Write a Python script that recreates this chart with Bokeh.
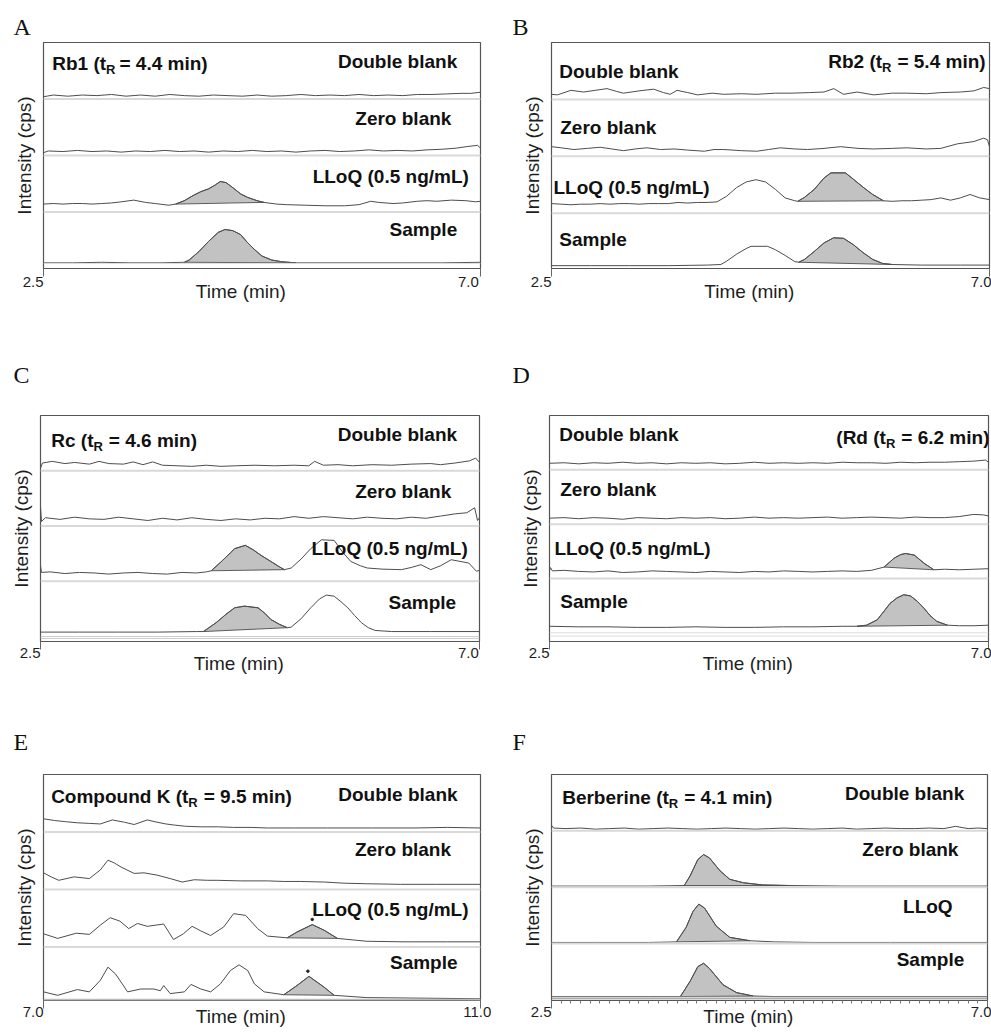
from bokeh.plotting import figure
from bokeh.models import Label, Range1d, FixedTicker, Span, Title, CustomJSTickFormatter
from bokeh.layouts import column, row
from bokeh.embed import file_html
from bokeh.resources import INLINE

# ---------------------------------------------------------------- texts
PANEL_LETTERS = ["A", "B", "C", "D", "E", "F"]
STRIP_LABELS = ["Double blank", "Zero blank", "LLoQ (0.5 ng/mL)", "Sample"]
STRIP_LABELS_F = ["Double blank", "Zero blank", "LLoQ", "Sample"]
ANALYTES = ["Rb1 (t", "Rb2 (t", "Rc (t", "(Rd (t", "Compound K (t", "Berberine (t"]
RT_SUB = "R"
RT_TEXT = ["= 4.4 min)", "= 5.4 min)", "= 4.6 min)", "= 6.2 min)", "= 9.5 min)", "= 4.1 min)"]
X_LIMITS = [(2.5, 7.0), (2.5, 7.0), (2.5, 7.0), (2.5, 7.0), (7.0, 11.0), (2.5, 7.0)]
TICK_LABELS = [["2.5", "7.0"], ["2.5", "7.0"], ["2.5", "7.0"], ["2.5", "7.0"], ["7.0", "11.0"], ["2.5", "7.0"]]
X_TITLE = "Time (min)"
Y_TITLE = "Intensity (cps)"

# ---------------------------------------------------------------- traces: (time min, intensity % of strip)
# Panel A - Rb1
A_DOUBLE = [(2.5,4),(2.6,7),(2.75,5),(2.9,7),(3.05,6),(3.2,8),(3.35,5),(3.5,7),(3.65,5),(3.8,8),(3.95,6),(4.1,5),(4.25,7),(4.4,6),(4.55,5),(4.7,7),(4.85,5),(5.0,6),(5.15,8),(5.3,6),(5.45,7),(5.6,6),(5.75,8),(5.9,6),(6.05,7),(6.2,6),(6.35,8),(6.5,8),(6.65,9),(6.8,10),(6.9,10),(7.0,12)]
A_ZERO = [(2.5,5),(2.55,8),(2.7,7),(2.85,9),(3.0,7),(3.15,8),(3.3,6),(3.45,8),(3.6,7),(3.75,9),(3.9,7),(4.05,8),(4.2,6),(4.35,8),(4.5,7),(4.65,9),(4.8,7),(4.95,8),(5.1,6),(5.25,8),(5.4,9),(5.55,7),(5.7,8),(5.85,10),(6.0,8),(6.15,9),(6.3,8),(6.45,10),(6.6,11),(6.75,13),(6.87,16),(6.97,18),(7.0,13)]
A_LLOQ = [(2.5,14),(2.6,15),(2.7,14),(2.8,15),(2.9,15),(3.0,14),(3.1,15),(3.2,16),(3.3,18),(3.43,21),(3.55,17),(3.65,15),(3.79,12),(3.86,14),(3.95,20),(4.05,30),(4.12,36),(4.2,41),(4.27,48),(4.32,54),(4.38,52),(4.45,43),(4.53,32),(4.6,26),(4.7,20),(4.77,17),(4.9,14),(5.0,13),(5.2,12),(5.4,11),(5.6,11),(5.75,13),(5.87,19),(5.95,17),(6.1,15),(6.2,16),(6.35,19),(6.45,20),(6.55,19),(6.7,21),(6.85,20),(6.95,18),(7.0,19)]
A_SAMPLE = [(2.5,10),(2.8,10),(3.1,11),(3.4,10),(3.7,10),(3.95,11),(4.0,15),(4.1,30),(4.2,48),(4.3,64),(4.37,69),(4.45,67),(4.53,60),(4.6,46),(4.67,34),(4.75,22),(4.85,15),(4.95,12),(5.1,10),(5.4,10),(5.8,10),(6.2,10),(6.6,10),(7.0,11)]
A_PEAKS = [None, None, (3.86, 4.77), (3.95, 5.1)]

# Panel B - Rb2
B_DOUBLE = [(2.5,9),(2.56,8),(2.7,16),(2.83,13),(2.95,16),(3.07,19),(3.17,14),(3.24,11),(3.4,15),(3.55,18),(3.65,12),(3.72,9),(3.79,16),(3.9,12),(4.0,8),(4.15,11),(4.27,9),(4.45,10),(4.61,9),(4.8,11),(4.96,11),(5.15,12),(5.3,13),(5.4,19),(5.5,9),(5.64,13),(5.81,8),(6.0,11),(6.15,11),(6.35,10),(6.5,12),(6.7,13),(6.84,15),(6.94,21),(7.0,19)]
B_ZERO = [(2.5,17),(2.6,15),(2.73,12),(2.87,14),(3.0,16),(3.12,13),(3.24,10),(3.36,13),(3.48,15),(3.62,12),(3.76,13),(3.9,11),(4.07,9),(4.17,12),(4.27,12),(4.45,10),(4.61,9),(4.73,12),(4.85,15),(5.0,13),(5.13,12),(5.3,14),(5.47,17),(5.65,14),(5.81,13),(6.0,14),(6.15,15),(6.35,13),(6.5,14),(6.67,22),(6.84,26),(6.94,32),(6.98,29),(7.0,17)]
B_LLOQ = [(2.5,17),(2.6,16),(2.7,15),(2.8,16),(2.9,16),(3.0,17),(3.1,16),(3.2,17),(3.3,17),(3.4,16),(3.5,17),(3.6,17),(3.7,17),(3.8,19),(3.9,18),(4.0,19),(4.1,19),(4.2,20),(4.3,30),(4.4,45),(4.5,55),(4.6,59),(4.7,55),(4.8,42),(4.9,27),(5.0,22),(5.03,21),(5.1,28),(5.2,42),(5.3,62),(5.37,71),(5.52,71),(5.6,60),(5.7,46),(5.8,33),(5.91,22),(6.0,21),(6.1,22),(6.2,22),(6.3,23),(6.4,24),(6.5,27),(6.6,23),(6.7,27),(6.8,33),(6.9,27),(7.0,24)]
B_SAMPLE = [(2.5,8),(2.9,8),(3.3,8),(3.7,8),(4.1,9),(4.24,10),(4.3,16),(4.4,28),(4.5,38),(4.55,42),(4.72,42),(4.8,36),(4.9,26),(5.0,15),(5.04,14),(5.1,19),(5.2,33),(5.3,48),(5.4,57),(5.5,56),(5.6,45),(5.7,31),(5.8,19),(5.9,12),(6.0,10),(6.3,9),(6.7,9),(7.0,9)]
B_PEAKS = [None, None, (5.03, 5.91), (5.04, 6.0)]

# Panel C - Rc
C_DOUBLE = [(2.5,5),(2.52,14),(2.62,17),(2.75,13),(2.85,15),(3.0,12),(3.1,17),(3.2,13),(3.35,12),(3.45,16),(3.55,11),(3.65,16),(3.75,10),(3.9,9),(4.05,8),(4.2,10),(4.35,8),(4.5,9),(4.7,10),(4.9,9),(5.1,10),(5.25,9),(5.31,17),(5.4,10),(5.55,11),(5.7,9),(5.9,11),(6.1,10),(6.3,12),(6.5,13),(6.6,11),(6.75,14),(6.9,18),(6.96,23),(7.0,15)]
C_ZERO = [(2.5,35),(2.51,8),(2.55,15),(2.7,12),(2.85,16),(3.0,13),(3.15,12),(3.3,16),(3.45,13),(3.6,10),(3.75,14),(3.9,11),(4.05,15),(4.2,12),(4.35,10),(4.5,13),(4.65,11),(4.8,14),(4.95,13),(5.1,17),(5.25,14),(5.4,17),(5.55,15),(5.7,13),(5.85,16),(6.0,14),(6.15,13),(6.3,16),(6.45,14),(6.6,18),(6.75,22),(6.87,24),(6.95,33),(6.98,10),(7.0,15)]
C_LLOQ = [(2.5,28),(2.51,16),(2.6,17),(2.75,14),(2.9,16),(3.05,15),(3.2,13),(3.35,15),(3.5,16),(3.65,14),(3.8,13),(3.95,16),(4.1,15),(4.2,17),(4.25,19),(4.35,35),(4.45,52),(4.49,59),(4.6,65),(4.68,57),(4.76,47),(4.86,36),(4.95,26),(5.0,21),(5.07,24),(5.17,40),(5.27,59),(5.38,75),(5.51,74),(5.6,52),(5.68,36),(5.78,28),(5.85,24),(6.0,22),(6.2,21),(6.3,25),(6.4,30),(6.5,21),(6.6,28),(6.71,39),(6.8,36),(6.89,33),(6.97,18),(7.0,20)]
C_SAMPLE = [(2.5,8),(2.9,8),(3.3,8),(3.7,8),(4.1,9),(4.17,9),(4.3,25),(4.4,40),(4.49,52),(4.59,55),(4.73,52),(4.8,42),(4.86,31),(4.95,22),(5.03,16),(5.07,17),(5.17,32),(5.27,52),(5.36,68),(5.43,75),(5.51,73),(5.58,63),(5.65,52),(5.72,38),(5.79,25),(5.86,16),(5.93,11),(6.1,9),(6.5,9),(7.0,9)]
C_PEAKS = [None, None, (4.25, 5.0), (4.17, 5.03)]

# Panel D - Rd
D_DOUBLE = [(2.5,12),(2.65,13),(2.8,11),(2.95,13),(3.1,12),(3.25,14),(3.4,12),(3.55,13),(3.7,11),(3.85,13),(4.0,12),(4.15,13),(4.3,11),(4.45,12),(4.6,14),(4.75,12),(4.9,13),(5.05,12),(5.2,13),(5.35,12),(5.5,14),(5.65,13),(5.8,13),(5.95,12),(6.1,14),(6.25,13),(6.4,14),(6.55,14),(6.7,15),(6.85,16),(6.97,18),(7.0,14)]
D_ZERO = [(2.5,11),(2.65,12),(2.8,10),(2.95,12),(3.1,11),(3.25,9),(3.4,12),(3.55,11),(3.7,10),(3.85,12),(4.0,11),(4.15,12),(4.3,10),(4.45,11),(4.6,13),(4.75,11),(4.9,12),(5.05,11),(5.2,12),(5.35,13),(5.5,11),(5.65,12),(5.8,13),(5.95,12),(6.1,11),(6.25,13),(6.4,12),(6.55,12),(6.7,14),(6.85,18),(6.95,17),(7.0,15)]
D_LLOQ = [(2.5,14),(2.51,20),(2.53,14),(2.65,15),(2.8,13),(2.95,12),(3.1,14),(3.25,11),(3.4,12),(3.55,14),(3.7,13),(3.85,12),(4.0,11),(4.15,13),(4.3,12),(4.45,11),(4.6,13),(4.75,12),(4.9,14),(5.05,13),(5.2,12),(5.35,13),(5.5,14),(5.65,13),(5.8,15),(5.93,21),(6.03,37),(6.1,44),(6.15,46),(6.24,43),(6.34,28),(6.44,16),(6.55,17),(6.7,16),(6.85,17),(7.0,18)]
D_SAMPLE = [(2.5,12),(2.8,11),(3.1,11),(3.4,10),(3.7,10),(4.0,11),(4.3,10),(4.6,10),(4.9,11),(5.2,11),(5.5,12),(5.65,12),(5.75,14),(5.86,24),(5.93,40),(5.99,54),(6.06,64),(6.13,70),(6.2,68),(6.27,58),(6.34,45),(6.4,32),(6.47,21),(6.58,14),(6.7,13),(6.85,13),(7.0,14)]
D_PEAKS = [None, None, (5.93, 6.44), (5.65, 6.58)]

# Panel E - Compound K
E_DOUBLE = [(7.0,23),(7.1,20),(7.2,18),(7.31,16),(7.42,15),(7.52,14),(7.63,21),(7.74,17),(7.83,13),(7.95,21),(8.04,17),(8.12,14),(8.2,12),(8.3,10),(8.44,9),(8.6,9),(8.74,8),(8.9,8),(9.05,7),(9.3,7),(9.6,7),(10.0,7),(10.4,7),(10.7,8),(11.0,7)]
E_ZERO = [(7.0,29),(7.07,22),(7.14,16),(7.28,22),(7.42,19),(7.52,34),(7.59,51),(7.65,46),(7.71,39),(7.83,28),(7.92,29),(8.04,25),(8.16,19),(8.27,13),(8.38,17),(8.5,16),(8.59,16),(8.8,15),(9.05,15),(9.2,14),(9.35,14),(9.57,13),(9.75,11),(9.96,10),(10.27,9),(10.6,9),(11.0,9)]
E_LLOQ = [(7.0,23),(7.13,15),(7.3,24),(7.42,22),(7.52,38),(7.61,51),(7.7,45),(7.78,32),(7.86,41),(7.95,36),(8.1,40),(8.19,13),(8.28,23),(8.36,36),(8.44,28),(8.53,20),(8.65,35),(8.74,58),(8.85,55),(8.96,32),(9.05,19),(9.23,16),(9.32,26),(9.46,39),(9.57,29),(9.69,15),(9.85,12),(9.96,10),(10.3,9),(10.7,9),(11.0,9)]
E_SAMPLE = [(7.0,22),(7.13,16),(7.31,26),(7.42,22),(7.52,42),(7.59,65),(7.66,53),(7.77,22),(7.89,27),(8.01,27),(8.07,24),(8.1,33),(8.16,19),(8.29,22),(8.35,35),(8.44,27),(8.53,22),(8.62,36),(8.71,59),(8.79,69),(8.87,59),(8.93,36),(9.02,22),(9.2,17),(9.32,33),(9.43,49),(9.57,30),(9.66,16),(9.96,12),(10.5,11),(11.0,10)]
E_PEAKS = [None, None, (9.23, 9.69), (9.2, 9.66)]
E_MARK_T = [9.46, 9.42]
E_MARK_V = [48, 58]
E_MARK_STRIP = [2, 3]

# Panel F - Berberine (internal standard)
F_DOUBLE = [(2.5,10),(2.52,5),(2.65,4),(2.8,5),(2.95,3),(3.1,4),(3.25,5),(3.4,3),(3.55,4),(3.7,5),(3.85,4),(4.0,3),(4.15,4),(4.3,5),(4.45,4),(4.6,3),(4.75,4),(4.9,5),(5.05,4),(5.2,3),(5.35,4),(5.5,5),(5.65,3),(5.8,4),(5.95,5),(6.1,4),(6.25,4),(6.4,5),(6.55,4),(6.67,8),(6.8,4),(6.9,5),(7.0,4)]
F_ZERO = [(2.5,2),(3.0,2),(3.5,2),(3.87,3),(3.93,20),(4.01,49),(4.07,58),(4.13,52),(4.24,29),(4.34,14),(4.48,8),(4.68,4),(4.96,3),(5.5,2),(6.0,2),(6.5,2),(7.0,2)]
F_LLOQ = [(2.5,2),(3.0,2),(3.5,2),(3.79,3),(3.89,29),(3.96,57),(4.02,70),(4.08,63),(4.2,31),(4.34,11),(4.55,5),(4.8,3),(5.2,2),(6.0,2),(7.0,2)]
F_SAMPLE = [(2.5,6),(3.0,6),(3.5,6),(3.83,6),(3.93,33),(4.01,59),(4.07,65),(4.13,56),(4.27,27),(4.41,13),(4.58,7),(4.8,6),(5.5,6),(6.5,6),(7.0,6)]
F_PEAKS = [None, (3.87, 4.96), (3.79, 4.55), (3.83, 4.58)]

# ---------------------------------------------------------------- layout / style (pixels)
SANS = "Liberation Sans"
SERIF = "Liberation Serif"
LINE_C = "#4d4d4d"
FILL_C = "#c2c2c2"
SEP_C = "#d9d9d9"
TEXT_C = "#111111"
AX_C = "#1e1e1e"
LABEL_PX = 19
SUB_PX = 13
NB = "\u00a0"

LAYOUT = {
    "A": dict(w=495, h=331, bl=43, br=15, bt=42, bb=63, ymin=0.0, letter=(-30, 6), lab_so=-4, ttl_so=-12, pad=(5, 4), tpad=8,
              title=(2.59, 3.63, "left", 4), strips=[(6.76, 3.66, "right"), (6.70, 2.66, "right"), (6.88, 1.63, "right"), (6.76, 0.69, "right")],
              base=[(0.09, "#dddddd", 1)]),
    "B": dict(w=496, h=331, bl=56, br=2, bt=42, bb=63, ymin=0.03, letter=(-39, 6), lab_so=-4, ttl_so=-12, pad=(5, 0), tpad=8,
              title=(6.96, 3.66, "right", 6), strips=[(2.58, 3.49, "left"), (2.59, 2.50, "left"), (2.52, 1.45, "left"), (2.58, 0.54, "left")],
              base=[]),
    "C": dict(w=495, h=365, bl=40, br=16, bt=82, bb=55, ymin=-0.09, letter=(-27, 56), lab_so=-6, ttl_so=-11, pad=(5, 4), tpad=8,
              title=(2.61, 3.55, "left", 6), strips=[(6.77, 3.65, "right"), (6.71, 2.63, "right"), (6.88, 1.59, "right"), (6.76, 0.62, "right")],
              base=[(0.0, "#cccccc", 1), (-0.035, "#cccccc", 1)]),
    "D": dict(w=496, h=365, bl=54, br=3, bt=82, bb=55, ymin=-0.16, letter=(-37, 56), lab_so=-6, ttl_so=-11, pad=(5, 0), tpad=8,
              title=(7.01, 3.59, "right", 6), strips=[(2.60, 3.65, "left"), (2.61, 2.63, "left"), (2.55, 1.55, "left"), (2.61, 0.57, "left")],
              base=[(0.0, "#dddddd", 1), (-0.06, "#dddddd", 1)]),
    "E": dict(w=495, h=336, bl=43, br=15, bt=78, bb=32, ymin=0.07, letter=(-30, 40), lab_so=-6, ttl_so=-17, pad=(5, 1), tpad=8,
              title=(7.07, 3.62, "left", 6), strips=[(10.79, 3.66, "right"), (10.73, 2.69, "right"), (10.89, 1.65, "right"), (10.79, 0.73, "right")],
              base=[(0.085, "#bbbbbb", 2)]),
    "F": dict(w=496, h=336, bl=56, br=4, bt=78, bb=32, ymin=-0.01, letter=(-39, 40), lab_so=-6, ttl_so=-17, pad=(5, 0), tpad=8,
              title=(2.61, 3.60, "left", 6), strips=[(6.76, 3.66, "right"), (6.70, 2.67, "right"), (6.64, 1.66, "right"), (6.76, 0.71, "right")],
              base=[(0.055, "#8a8a8a", 1), (0.02, "#8a8a8a", 1)]),
}

# Arial/Liberation Sans Bold advance widths (1/1000 em)
BOLD_W = {" ": 278, NB: 278, "(": 333, ")": 333, "=": 584, ".": 278, "/": 278, "A": 722, "B": 722, "C": 722, "D": 722,
          "K": 722, "L": 611, "M": 833, "Q": 778, "R": 722, "S": 667, "Z": 611, "a": 556, "b": 611, "c": 556,
          "d": 611, "e": 556, "g": 611, "i": 278, "k": 556, "l": 278, "m": 889, "n": 611, "o": 611, "p": 611,
          "r": 389, "s": 556, "t": 333, "u": 611}


def text_w(s, size):
    return sum(BOLD_W.get(c, 556) for c in s) * size / 1000.0


def add_label(p, x, y, text, size, align="left", x_offset=0):
    p.add_layout(Label(x=x, y=y, text=text, x_units="data", y_units="data", x_offset=x_offset,
                       text_font=SANS, text_font_size=f"{size}px", text_font_style="bold",
                       text_align=align, text_baseline="middle", text_color=TEXT_C))


def build(i, key, traces, peaks, labels, marks=None):
    L = LAYOUT[key]
    x0, x1 = X_LIMITS[i]
    ymin, ymax = L["ymin"], 4.0
    fh = L["h"] - L["bt"] - L["bb"]
    ppy = fh / (ymax - ymin)
    p = figure(width=L["w"], height=L["h"], x_range=Range1d(x0, x1), y_range=Range1d(ymin, ymax),
               output_backend="svg", toolbar_location=None, title=None,
               min_border_left=L["bl"], min_border_right=L["br"], min_border_top=L["bt"], min_border_bottom=L["bb"])
    p.grid.visible = False
    p.outline_line_color = "#555555"
    p.outline_line_width = 1.2
    p.background_fill_color = "white"
    p.border_fill_color = "white"

    # panel letter as title
    dx, so = L["letter"]
    t = Title(text=PANEL_LETTERS[i], align="left", offset=dx, text_font=SERIF, text_font_size="24px",
              text_font_style="normal", text_color="#111111", vertical_align="bottom")
    if "standoff" in Title.properties():
        t.standoff = so
    p.add_layout(t, "above")

    # y axis: only the title
    ya = p.yaxis[0]
    ya.ticker = FixedTicker(ticks=[])
    ya.axis_line_color = None
    ya.major_tick_out = 0
    ya.major_tick_in = 0
    ya.minor_tick_out = 0
    ya.major_label_standoff = 0
    ya.axis_label = Y_TITLE
    ya.axis_label_standoff = 9
    ya.axis_label_text_font = SANS
    ya.axis_label_text_font_size = "19px"
    ya.axis_label_text_font_style = "normal"
    ya.axis_label_text_color = AX_C

    # x axis: ticks only at both ends, labels set flush right against the tick
    xa = p.xaxis[0]
    minor = [round(2.6 + 0.1 * j, 1) for j in range(44)] if key == "F" else []
    xa.ticker = FixedTicker(ticks=[x0, x1], minor_ticks=minor)
    n0, n1 = L["pad"]
    xa.formatter = CustomJSTickFormatter(args=dict(a=TICK_LABELS[i][0] + NB * n0, b=TICK_LABELS[i][1] + NB * n1, mid=(x0 + x1) / 2),
                                         code="return tick < mid ? a : b;")
    xa.axis_line_color = None
    xa.major_tick_line_color = "#666666"
    xa.major_tick_line_width = 1
    xa.major_tick_out = 8
    xa.major_tick_in = 0
    xa.minor_tick_out = 3 if key == "F" else 0
    xa.minor_tick_in = 0
    xa.minor_tick_line_color = "#777777" if key == "F" else None
    xa.major_label_text_font = SANS
    xa.major_label_text_font_size = "15px"
    xa.major_label_text_color = AX_C
    xa.major_label_standoff = L["lab_so"]
    xa.axis_label = X_TITLE + NB * L["tpad"]
    xa.axis_label_standoff = L["ttl_so"]
    xa.axis_label_text_font = SANS
    xa.axis_label_text_font_size = "19px"
    xa.axis_label_text_font_style = "normal"
    xa.axis_label_text_color = AX_C

    # strip separators
    for s in (1, 2, 3):
        p.add_layout(Span(location=s, dimension="width", line_color=SEP_C, line_width=2))
    for yb, col, lw in L["base"]:
        p.add_layout(Span(location=yb, dimension="width", line_color=col, line_width=lw))

    # traces
    for k, pts in enumerate(traces):
        off = 3 - k
        xs = [tt for tt, v in pts]
        ys = [off + v / 100.0 for tt, v in pts]
        pk = peaks[k]
        if pk is not None:
            sel = [(tt, off + v / 100.0) for tt, v in pts if pk[0] - 1e-9 <= tt <= pk[1] + 1e-9]
            p.patch([a for a, b in sel], [b for a, b in sel], fill_color=FILL_C, line_color=LINE_C, line_width=0.9)
        p.line(xs, ys, line_color=LINE_C, line_width=1.0)
    if marks is not None:
        mt, mv, ms = marks
        p.scatter(mt, [3 - s + v / 100.0 for v, s in zip(mv, ms)], size=2.5, color="#222222")

    # strip labels
    for (lx, ly, al), txt in zip(L["strips"], labels):
        add_label(p, lx, ly, txt, LABEL_PX, align=al)

    # analyte title with subscript R
    tx, ty, al, gap = L["title"]
    pre, post = ANALYTES[i], RT_TEXT[i]
    w_pre, w_sub, w_post = text_w(pre, LABEL_PX), text_w(RT_SUB, SUB_PX), text_w(post, LABEL_PX)
    start = 0 if al == "left" else -(w_pre + w_sub + gap + w_post)
    add_label(p, tx, ty, pre, LABEL_PX, x_offset=start)
    add_label(p, tx, ty - 6.0 / ppy, RT_SUB, SUB_PX, x_offset=start + w_pre)
    add_label(p, tx, ty, post, LABEL_PX, x_offset=start + w_pre + w_sub + gap)
    return p


pA = build(0, "A", [A_DOUBLE, A_ZERO, A_LLOQ, A_SAMPLE], A_PEAKS, STRIP_LABELS)
pB = build(1, "B", [B_DOUBLE, B_ZERO, B_LLOQ, B_SAMPLE], B_PEAKS, STRIP_LABELS)
pC = build(2, "C", [C_DOUBLE, C_ZERO, C_LLOQ, C_SAMPLE], C_PEAKS, STRIP_LABELS)
pD = build(3, "D", [D_DOUBLE, D_ZERO, D_LLOQ, D_SAMPLE], D_PEAKS, STRIP_LABELS)
pE = build(4, "E", [E_DOUBLE, E_ZERO, E_LLOQ, E_SAMPLE], E_PEAKS, STRIP_LABELS, marks=(E_MARK_T, E_MARK_V, E_MARK_STRIP))
pF = build(5, "F", [F_DOUBLE, F_ZERO, F_LLOQ, F_SAMPLE], F_PEAKS, STRIP_LABELS_F)

page = column(row(pA, pB), row(pC, pD), row(pE, pF))
open("out.html", "w").write(file_html(page, INLINE))
